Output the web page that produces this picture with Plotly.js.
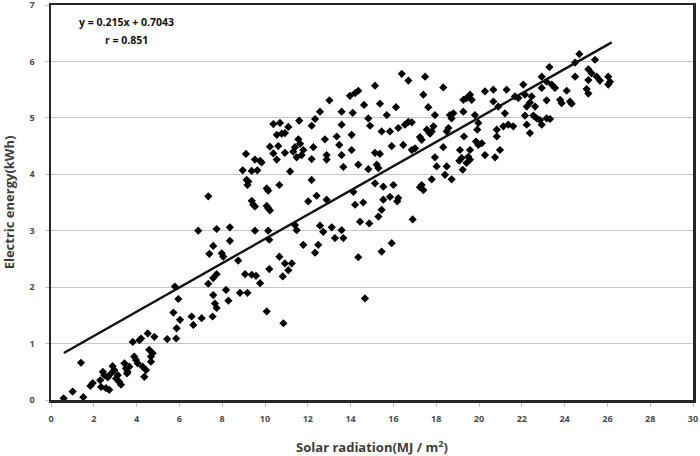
<!DOCTYPE html>
<html>
<head>
<meta charset="utf-8">
<script src="https://cdn.plot.ly/plotly-3.0.1.min.js"></script>
<style>
  html, body { margin: 0; padding: 0; background: #ffffff; }
  #chart { width: 700px; height: 456px; }
</style>
</head>
<body>
<div id="chart"></div>
<script>
// Daily solar radiation (MJ/m²) against electric energy produced (kWh)
const solarX = [
  0.59, 1.01, 1.51, 1.40, 1.84, 1.95, 2.34, 2.30, 2.42, 2.49, 2.65, 2.57, 2.72, 2.88, 2.96, 2.80,
  3.04, 3.19, 3.27, 3.12, 3.43, 3.50, 3.58, 3.66, 3.55, 3.89, 3.97, 4.05, 3.82, 4.13, 4.21, 4.28,
  4.36, 4.44, 4.52, 4.59, 4.67, 4.75, 4.83, 4.67, 5.43, 5.85,
  10.39, 10.70, 10.55, 10.78, 10.93, 10.23, 10.62, 10.39, 10.55, 10.93, 9.11, 9.53, 9.77, 9.84,
  8.96, 9.38, 9.64, 9.14, 9.22, 9.18, 10.08, 10.15, 10.67, 11.17, 7.35, 9.38, 9.45, 9.53, 10.08,
  10.15, 10.23, 6.88, 7.74, 8.36, 9.53, 10.15, 10.20, 8.36, 7.58, 7.40, 7.98, 8.05, 8.75, 10.67,
  10.93, 9.07, 9.38, 9.58, 9.77, 10.20, 10.83, 7.74, 7.58, 7.35, 5.95, 7.58, 7.66, 7.74, 7.55,
  8.29, 8.18, 8.83, 9.18, 10.08, 10.86, 5.72, 6.03, 5.87, 6.57, 6.65, 7.04, 5.79,
  15.14, 14.36, 14.21, 13.97, 13.01, 12.57, 13.58, 14.10, 14.63, 15.37, 15.69, 16.12, 14.83, 14.91,
  15.45, 15.84, 16.23, 12.34, 12.18, 11.60, 11.09, 13.58, 14.05, 12.80, 13.35, 13.47, 11.56, 11.64,
  11.40, 11.32, 11.48, 11.71, 11.79, 12.26, 12.18, 12.88, 12.88, 13.58, 13.66, 14.05, 14.36, 14.83,
  15.22, 15.30, 15.14, 15.37, 15.92, 12.18, 12.41, 12.02, 12.88, 14.13, 14.21, 14.59, 15.14, 15.53,
  16.00, 16.23, 15.84, 15.53, 15.45, 15.30, 14.87, 14.44, 11.40, 11.48, 12.57, 12.72, 13.12, 13.27,
  13.58, 13.66, 11.79, 12.34, 12.49, 14.36, 15.45, 15.92, 11.25, 11.09, 14.67,
  16.39, 16.70, 17.48, 17.40, 18.33, 17.63, 17.94, 16.70, 16.86, 16.54, 16.46, 16.86, 17.01, 17.32,
  17.24, 17.56, 17.79, 17.87, 17.71, 18.64, 18.80, 18.72, 19.27, 19.27, 19.42, 19.58, 19.66, 20.28,
  20.67, 21.29, 20.67, 20.90, 21.21, 21.37, 21.14, 20.83, 18.57, 18.49, 19.81, 19.97, 19.92, 19.86,
  19.97, 20.13, 19.30, 19.11, 19.19, 19.08, 19.58, 19.50, 19.58, 19.42, 19.24, 18.33, 17.94, 18.02,
  18.49, 18.41, 18.72, 17.79, 17.32, 17.24, 17.40, 20.28, 20.75, 20.98, 20.83, 16.18, 16.90,
  24.69, 24.49, 25.42, 25.11, 25.26, 25.50, 25.65, 25.11, 26.04, 26.12, 26.04, 25.03, 25.11, 24.49,
  23.29, 22.93, 23.16, 23.40, 23.55, 24.10, 24.25, 24.33, 23.79, 23.86, 23.16, 22.93, 22.07, 21.68,
  21.84, 22.15, 22.46, 22.38, 22.23, 22.62, 22.54, 22.70, 22.85, 23.32, 23.16, 22.15, 22.23, 22.93,
  22.38, 21.60
];

const energyY = [
  0.03, 0.15, 0.05, 0.66, 0.25, 0.30, 0.23, 0.35, 0.50, 0.44, 0.40, 0.21, 0.18, 0.60, 0.53, 0.47,
  0.38, 0.32, 0.27, 0.44, 0.65, 0.56, 0.50, 0.59, 0.47, 0.77, 0.71, 0.65, 1.03, 1.06, 1.09, 0.59,
  0.41, 0.53, 1.18, 0.89, 0.77, 0.83, 1.12, 0.68, 1.08, 1.09,
  4.89, 4.91, 4.70, 4.72, 4.73, 4.49, 4.50, 4.37, 4.26, 4.38, 4.36, 4.26, 4.24, 4.21,
  4.07, 4.06, 4.07, 3.90, 3.87, 3.81, 3.75, 3.71, 3.81, 4.05, 3.61, 3.53, 3.46, 3.43, 3.44,
  3.40, 3.36, 3.00, 3.03, 3.06, 3.00, 3.00, 2.84, 2.82, 2.73, 2.59, 2.60, 2.54, 2.47, 2.54,
  2.42, 2.23, 2.22, 2.20, 2.07, 2.32, 2.19, 2.23, 2.16, 2.06, 1.79, 1.86, 1.71, 1.63, 1.48,
  1.76, 1.95, 1.90, 1.90, 1.57, 1.36, 1.55, 1.42, 1.27, 1.48, 1.33, 1.45, 2.01,
  5.57, 5.48, 5.44, 5.39, 5.31, 5.11, 5.11, 5.09, 5.23, 5.25, 5.05, 5.19, 4.99, 4.86,
  4.76, 4.76, 4.82, 4.98, 4.86, 4.95, 4.84, 4.88, 4.70, 4.62, 4.67, 4.52, 4.62, 4.54,
  4.48, 4.40, 4.30, 4.34, 4.43, 4.48, 4.27, 4.34, 4.26, 4.34, 4.13, 4.43, 4.17, 4.09,
  4.17, 4.11, 4.38, 4.36, 4.50, 3.90, 3.62, 3.52, 3.55, 3.69, 3.46, 3.50, 3.84, 3.78,
  3.81, 3.58, 3.60, 3.55, 3.37, 3.25, 3.13, 3.16, 3.10, 3.01, 3.09, 2.98, 3.06, 2.87,
  3.01, 2.87, 2.75, 2.61, 2.75, 2.53, 2.63, 2.78, 2.42, 2.30, 1.80,
  5.78, 5.66, 5.73, 5.41, 5.54, 5.19, 5.05, 4.93, 4.92, 4.88, 4.52, 4.43, 4.46, 4.61,
  4.66, 4.79, 4.76, 4.85, 4.72, 5.05, 5.08, 4.99, 5.11, 5.32, 5.35, 5.41, 5.32, 5.47,
  5.50, 5.50, 5.29, 5.20, 5.08, 4.88, 4.85, 4.79, 4.82, 4.76, 5.05, 4.91, 4.79, 4.58,
  4.52, 4.55, 4.67, 4.43, 4.29, 4.24, 4.43, 4.31, 4.26, 4.20, 4.08, 4.48, 4.30, 4.14,
  4.14, 3.99, 3.91, 3.91, 3.81, 3.77, 3.72, 4.34, 4.30, 4.43, 4.67, 3.52, 3.20,
  6.13, 5.98, 6.03, 5.86, 5.79, 5.73, 5.66, 5.67, 5.73, 5.64, 5.59, 5.51, 5.43, 5.73,
  5.90, 5.73, 5.64, 5.59, 5.53, 5.48, 5.29, 5.25, 5.32, 5.26, 5.31, 5.53, 5.59, 5.38,
  5.35, 5.41, 5.38, 5.27, 5.20, 5.20, 5.04, 4.99, 4.96, 4.98, 4.99, 5.04, 4.88, 4.88,
  4.73, 4.85
];

// Least-squares fit reported on the chart
const fitSlope = 0.215;
const fitIntercept = 0.7043;
const fitR = 0.851;
const fitRangeX = [0.6, 26.2];
const fitRangeY = fitRangeX.map(x => fitSlope * x + fitIntercept);

const xTicks = [0, 2, 4, 6, 8, 10, 12, 14, 16, 18, 20, 22, 24, 26, 28, 30];
const yTicks = [0, 1, 2, 3, 4, 5, 6, 7];

const labelFont = { family: 'Open Sans, Liberation Sans, sans-serif', size: 9, color: '#4a4a4a', weight: 700 };
const titleFont = { family: 'Open Sans, Liberation Sans, sans-serif', size: 13, color: '#3d3d3d', weight: 700 };

const traces = [
  {
    type: 'scatter',
    mode: 'markers',
    x: solarX,
    y: energyY,
    marker: { symbol: 'diamond', size: 6.3, color: '#000000', line: { width: 0 } },
    hoverinfo: 'x+y'
  },
  {
    type: 'scatter',
    mode: 'lines',
    x: fitRangeX,
    y: fitRangeY,
    line: { color: '#111111', width: 2.4 },
    hoverinfo: 'skip'
  }
];

const layout = {
  width: 700,
  height: 456,
  margin: { l: 51, r: 7, t: 5, b: 56 },
  paper_bgcolor: '#ffffff',
  plot_bgcolor: '#ffffff',
  showlegend: false,
  xaxis: {
    range: [0, 30],
    tickvals: xTicks,
    ticktext: xTicks.map(String),
    showgrid: false,
    zeroline: false,
    showline: true,
    mirror: true,
    linecolor: '#262626',
    linewidth: 2.5,
    ticks: 'outside',
    ticklen: 4,
    tickwidth: 1,
    tickcolor: '#c4c4c4',
    ticklabelstandoff: 5,
    tickfont: labelFont,
    title: { text: 'Solar radiation(MJ / m<sup>2</sup>)', font: titleFont, standoff: 20 }
  },
  yaxis: {
    range: [0, 7],
    tickvals: yTicks,
    ticktext: yTicks.map(String),
    showgrid: true,
    gridcolor: '#c6c6c6',
    gridwidth: 1,
    zeroline: false,
    showline: true,
    mirror: true,
    linecolor: '#262626',
    linewidth: 2.5,
    ticks: 'outside',
    ticklen: 4,
    tickwidth: 1,
    tickcolor: '#c4c4c4',
    ticklabelstandoff: 8,
    ticklabeloverflow: 'allow',
    tickfont: labelFont,
    title: { text: 'Electric energy(kWh)', font: titleFont, standoff: 12 }
  },
  annotations: [
    {
      xref: 'paper', yref: 'paper',
      x: (126 - 51) / 642, y: (400 - 22) / 395,
      xanchor: 'center', yanchor: 'middle',
      text: 'y = ' + fitSlope + 'x + ' + fitIntercept,
      showarrow: false,
      font: { family: 'Open Sans, Liberation Sans, sans-serif', size: 10.5, color: '#111111', weight: 700 }
    },
    {
      xref: 'paper', yref: 'paper',
      x: (126 - 51) / 642, y: (400 - 40) / 395,
      xanchor: 'center', yanchor: 'middle',
      text: 'r = ' + fitR,
      showarrow: false,
      font: { family: 'Open Sans, Liberation Sans, sans-serif', size: 10.5, color: '#111111', weight: 700 }
    }
  ]
};

Plotly.newPlot('chart', traces, layout, { displayModeBar: false, staticPlot: true });
</script>
</body>
</html>
